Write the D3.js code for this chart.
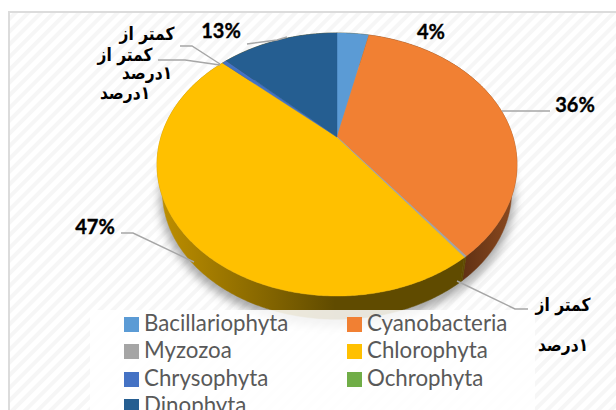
<!DOCTYPE html>
<html>
<head>
<meta charset="utf-8">
<script src="https://d3js.org/d3.v7.min.js"></script>
<style>
  html, body { margin: 0; padding: 0; background: #fff; overflow: hidden; }
  svg { display: block; }
</style>
</head>
<body>
<script>
// values (slices under 1% are the ones labelled "less than 1")
const categories = ["Bacillariophyta", "Cyanobacteria", "Myzozoa", "Chlorophyta", "Chrysophyta", "Ochrophyta", "Dinophyta"];
const values = [3.5, 36, 0.2, 47, 0.5, 0, 12.8];
const colors = ["#5b9bd5", "#f18033", "#a5a5a5", "#ffc000", "#4472c4", "#70ad47", "#255e91"];
const pctLabels = ["4%", "36%", "47%", "13%"];
const lessThan = ["کمتر از", "۱درصد"];

const width = 616, height = 410;
const apex = { x: 337, y: 137 };

//SVG
const svg = d3.select("body").append("svg").attr("width", width).attr("height", height);
const defs = svg.append("defs");

//HATCHED BACKGROUND
const hatch = defs.append("pattern").attr("id", "hatch")
    .attr("width", 9).attr("height", 9)
    .attr("patternUnits", "userSpaceOnUse")
    .attr("patternTransform", "rotate(45)");
hatch.append("rect").attr("width", 9).attr("height", 9).attr("fill", "#ffffff");
hatch.append("rect").attr("width", 4).attr("height", 9).attr("fill", "#f6f6f6");

defs.append("filter").attr("id", "blur")
    .attr("x", "-20%").attr("y", "-20%").attr("width", "140%").attr("height", "140%")
    .append("feGaussianBlur").attr("stdDeviation", 5);

//WALL GRADIENTS
const addGradient = (id, x1, x2, from, to) => {
    const g = defs.append("linearGradient").attr("id", id)
        .attr("gradientUnits", "userSpaceOnUse")
        .attr("x1", x1).attr("x2", x2).attr("y1", 0).attr("y2", 0);
    g.append("stop").attr("offset", 0).attr("stop-color", from);
    g.append("stop").attr("offset", 1).attr("stop-color", to);
};
addGradient("wallYellow", 165, 335, "#bb8d00", "#604b00");
addGradient("wallOrange", 455, 515, "#5a2d12", "#8c4a1f");

svg.append("rect").attr("width", width).attr("height", height).attr("fill", "#fff");
svg.append("rect").attr("x", 9).attr("y", 12).attr("width", width).attr("height", height)
    .attr("fill", "url(#hatch)").attr("stroke", "#dcdcdc").attr("stroke-width", 2);

//TILTED CIRCLE -> SCREEN (front of the pie is closer so it looks bigger)
const persp = 0.209, kx = 176, ky = 125.8;
const project = (angle, scale = 1, drop = 0) => {
    const X = Math.sin(angle), Y = -Math.cos(angle);
    const w = 1 - persp * Y;
    return [apex.x + scale * kx * X / w, apex.y + drop + scale * ky * Y / w];
};

const arcs = d3.pie().value(d => d).sort(null)(values);
const line = d3.line();
const slicePath = (d, scale, drop) => {
    const n = Math.max(2, Math.ceil((d.endAngle - d.startAngle) / 0.01));
    const pts = d3.range(n + 1).map(i => project(d.startAngle + (d.endAngle - d.startAngle) * i / n, scale, drop));
    return line([[apex.x, apex.y + drop], ...pts]) + "Z";
};
const color = d3.scaleOrdinal().domain(categories).range(colors);

const wallScale = 0.97, wallDrop = 28;
const full = { startAngle: 0, endAngle: 2 * Math.PI };

//SHADOW
svg.append("path").attr("d", slicePath(full, 0.985, 33))
    .attr("fill", "#555").attr("opacity", 0.5).attr("filter", "url(#blur)");

//SIDE WALLS: quads joining the bottom face to the top face
const wallFill = i => categories[i] === "Cyanobacteria" ? "url(#wallOrange)"
    : categories[i] === "Chlorophyta" ? "url(#wallYellow)" : "#604b00";
const walls = svg.append("g");
arcs.forEach((d, i) => {
    if (d.value === 0) return;
    const n = Math.ceil((d.endAngle - d.startAngle) / 0.01);
    const angles = d3.range(n + 1).map(k => d.startAngle + (d.endAngle - d.startAngle) * k / n);
    const ring = [...angles.map(a => project(a)), ...angles.slice().reverse().map(a => project(a, wallScale, wallDrop))];
    walls.append("path").attr("d", line(ring) + "Z")
        .attr("fill", wallFill(i)).attr("stroke", wallFill(i)).attr("stroke-width", 0.5);
});

//TOP FACE
svg.append("g").selectAll("path").data(arcs.filter(d => d.value > 0)).join("path")
    .attr("d", d => slicePath(d, 1, 0))
    .attr("fill", d => color(categories[d.index]))
    .attr("stroke", d => color(categories[d.index]))
    .attr("stroke-width", 0.4);

//thin grey sliver of Myzozoa between orange and yellow
const myz = arcs[2];
svg.append("path")
    .attr("d", line([[apex.x, apex.y], project((myz.startAngle + myz.endAngle) / 2)]))
    .attr("stroke", "#a5a5a5").attr("stroke-width", 1).attr("fill", "none");

//LEADER LINES
const leaders = [
    [[247, 44], [277, 40], [287, 37]],
    [[180, 46], [192, 46], [220, 64]],
    [[158, 60], [185, 60], [220, 65]],
    [[502, 111], [550, 111]],
    [[121, 233], [133, 233], [194, 262]],
    [[457, 281], [515, 309], [528, 309]]
];
svg.append("g").selectAll("path").data(leaders).join("path")
    .attr("d", d => line(d))
    .attr("fill", "none").attr("stroke", "#a6a6a6").attr("stroke-width", 1.4);

//LEGEND
svg.append("rect").attr("x", 90).attr("y", 310).attr("width", 445).attr("height", 100)
    .attr("fill", "#fff").attr("opacity", 0.86);
const colX = [124, 347], rowY = [317, 344, 372, 399];
const legend = svg.append("g").selectAll("g").data(categories).join("g")
    .attr("transform", (d, i) => `translate(${colX[i % 2]},${rowY[Math.floor(i / 2)]})`);
legend.append("rect").attr("width", 15).attr("height", 15).attr("fill", d => color(d));
legend.append("text").attr("x", 20).attr("y", 14)
    .attr("font-family", "Lato").attr("font-size", 22.3).attr("fill", "#595959")
    .text(d => d);

//DATA LABELS
const pctPos = [[431, 39], [575, 112], [95, 234], [221, 38]];
svg.append("g").selectAll("text").data(pctLabels).join("text")
    .attr("x", (d, i) => pctPos[i][0]).attr("y", (d, i) => pctPos[i][1])
    .attr("text-anchor", "middle")
    .attr("font-family", "Lato").attr("font-weight", 700).attr("font-size", 20)
    .attr("fill", "#000").attr("stroke", "#000").attr("stroke-width", 0.35)
    .text(d => d);

const lessPos = [[147, 40, 79], [125, 61, 99], [563, 311, 351]];
const less = svg.append("g").selectAll("g").data(lessPos).join("g");
lessThan.forEach((t, k) => {
    less.append("text")
        .attr("transform", d => `translate(${d[0]},${d[k + 1]}) scale(0.86,1)`)
        .attr("text-anchor", "middle").attr("direction", "rtl")
        .attr("font-family", "DejaVu Sans").attr("font-weight", 700).attr("font-size", 18).attr("fill", "#000")
        .text(t);
});
</script>
</body>
</html>
